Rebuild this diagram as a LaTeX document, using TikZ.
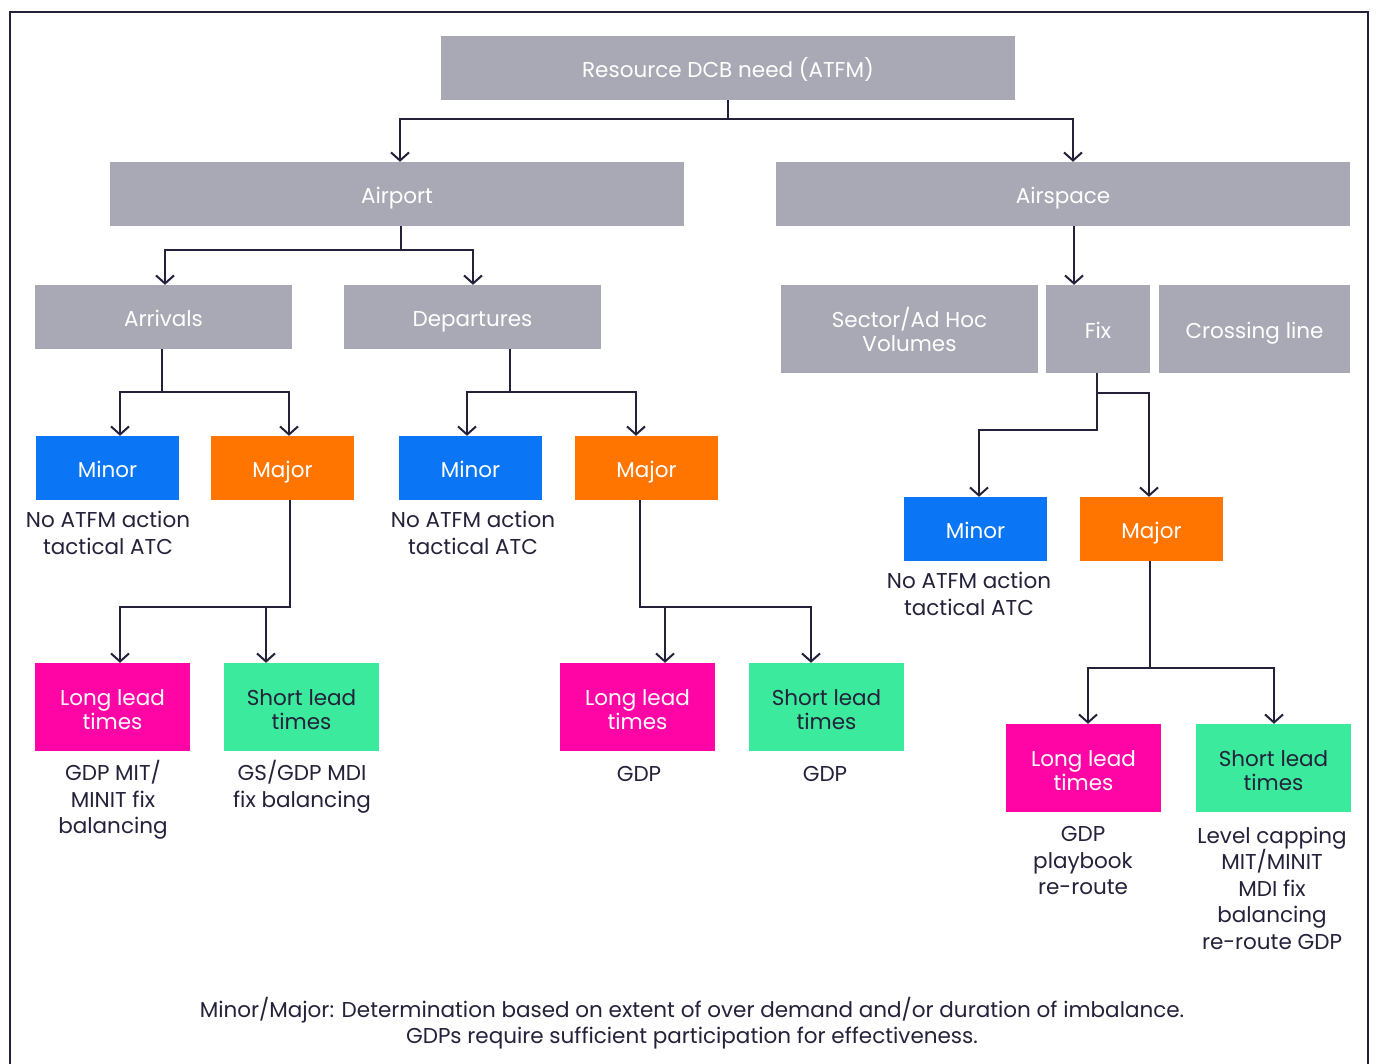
\documentclass[tikz,border=0pt]{standalone}
\usepackage{fontspec}
\setmainfont{Poppins}
\usetikzlibrary{arrows.meta}
\definecolor{boxgrey}{HTML}{A8A9B4}
\definecolor{boxblue}{HTML}{0A76F6}
\definecolor{boxorange}{HTML}{FF7500}
\definecolor{boxpink}{HTML}{FF05A5}
\definecolor{boxgreen}{HTML}{3BEA9C}
\definecolor{ink}{HTML}{23223A}
\newcommand{\twolines}[2]{\raisebox{-6pt}[\height][\depth]{\begin{tabular}{@{}c@{}}#1\\#2\end{tabular}}}
\tikzset{
  basebox/.style={rectangle, inner sep=0pt, align=center, text=white,
    font=\fontsize{21.5}{24}\selectfont},
  oneline/.style={text height=20pt, text depth=1pt},
  greybox/.style={basebox, fill=boxgrey},
  minorbox/.style={basebox, oneline, fill=boxblue, minimum width=143, minimum height=64},
  majorbox/.style={basebox, oneline, fill=boxorange, minimum width=143, minimum height=64},
  longbox/.style={basebox, fill=boxpink, minimum width=155, minimum height=88},
  shortbox/.style={basebox, fill=boxgreen, text=ink, minimum width=155, minimum height=88},
  note/.style={align=center, text=ink, inner sep=0pt, font=\fontsize{21.5}{26.5}\selectfont},
  arr/.style={draw=ink, line width=2pt, -{Straight Barb[length=8pt,width=18pt,line width=2pt]}},
  frame/.style={draw=ink, line width=2.5pt}
}
\begin{document}
\begin{tikzpicture}[x=1pt,y=-1pt]
\useasboundingbox (0,0) rectangle (1376,1063);
\fill[white] (0,0) rectangle (1376,1063);
\draw[frame] (10,1070) -- (10,12) -- (1368,12) -- (1368,1070);

% level 0
\node[greybox, oneline, minimum width=574, minimum height=64] (root) at (728,68) {Resource DCB need (ATFM)};
% level 1
\node[greybox, oneline, minimum width=574, minimum height=64] (airport) at (397,194) {Airport};
\node[greybox, oneline, minimum width=574, minimum height=64] (airspace) at (1063,194) {Airspace};
% level 2
\node[greybox, oneline, minimum width=257, minimum height=64] (arr) at (163.5,317) {Arrivals};
\node[greybox, oneline, minimum width=257, minimum height=64] (dep) at (472.5,317) {Departures};
\node[greybox, minimum width=257, minimum height=88] (sector) at (909.5,329) {Sector/Ad Hoc\\Volumes};
\node[greybox, oneline, minimum width=104, minimum height=88] (fix) at (1098,329) {Fix};
\node[greybox, oneline, minimum width=191, minimum height=88] (cross) at (1254.5,329) {Crossing line};
% level 3
\node[minorbox] (minA) at (107.5,468) {Minor};
\node[majorbox] (majA) at (282.5,468) {Major};
\node[minorbox] (minD) at (470.5,468) {Minor};
\node[majorbox] (majD) at (646.5,468) {Major};
\node[minorbox] (minS) at (975.5,529) {Minor};
\node[majorbox] (majS) at (1151.5,529) {Major};
% notes under minor
\node[note] (nA) at (108,533) {No ATFM action\\tactical ATC};
\node[note] (nD) at (473,533) {No ATFM action\\tactical ATC};
\node[note] (nS) at (969,594) {No ATFM action\\tactical ATC};
% level 4
\node[longbox] (longA) at (112.5,707) {\twolines{Long lead}{times}};
\node[shortbox] (shortA) at (301.5,707) {\twolines{Short lead}{times}};
\node[longbox] (longD) at (637.5,707) {\twolines{Long lead}{times}};
\node[shortbox] (shortD) at (826.5,707) {\twolines{Short lead}{times}};
\node[longbox] (longS) at (1083.5,768) {\twolines{Long lead}{times}};
\node[shortbox] (shortS) at (1273.5,768) {\twolines{Short lead}{times}};
% notes
\node[note] (tLA) at (113,800) {GDP MIT/\\MINIT fix\\balancing};
\node[note] (tSA) at (302,787) {GS/GDP MDI\\fix balancing};
\node[note] (tLD) at (639,774) {GDP};
\node[note] (tSD) at (825,774) {GDP};
\node[note] (tLS) at (1083,861) {GDP\\playbook\\re-route};
\node[note] (tSS) at (1272,888) {Level capping\\MIT/MINIT\\MDI fix\\balancing\\re-route GDP};
\node[note] (foot) at (692,1023) {Minor/Major: Determination based on extent of over demand and/or duration of imbalance.\\GDPs require sufficient participation for effectiveness.};

% connectors
\draw[arr] (root.south) -- ++(0,19) -| ([xshift=3]airport.north);
\draw[arr] (root.south) -- ++(0,19) -| ([xshift=10]airspace.north);
\draw[arr] ([xshift=4]airport.south) -- ++(0,24) -| ([xshift=1.5]arr.north);
\draw[arr] ([xshift=4]airport.south) -- ++(0,24) -| ([xshift=0.5]dep.north);
\draw[arr] ([xshift=11]airspace.south) -- ([xshift=-24]fix.north);
\draw[arr] ([xshift=-1.5]arr.south) -- ++(0,43) -| ([xshift=12.5]minA.north);
\draw[arr] ([xshift=-1.5]arr.south) -- ++(0,43) -| ([xshift=6.5]majA.north);
\draw[arr] ([xshift=37.5]dep.south) -- ++(0,43) -| ([xshift=-3.5]minD.north);
\draw[arr] ([xshift=37.5]dep.south) -- ++(0,43) -| ([xshift=-10.5]majD.north);
\draw[arr] ([xshift=-1]fix.south) -- ++(0,57) -| ([xshift=3.5]minS.north);
\draw[arr] ([xshift=-1]fix.south) -- ++(0,20) -| ([xshift=-2.5]majS.north);
\draw[arr] ([xshift=7.5]majA.south) -- ++(0,107) -| ([xshift=7.5]longA.north);
\draw[arr] ([xshift=7.5]majA.south) -- ++(0,107) -| ([xshift=-35.5]shortA.north);
\draw[arr] ([xshift=-6.5]majD.south) -- ++(0,107) -| ([xshift=27.5]longD.north);
\draw[arr] ([xshift=-6.5]majD.south) -- ++(0,107) -| ([xshift=-15.5]shortD.north);
\draw[arr] ([xshift=-1.5]majS.south) -- ++(0,107) -| ([xshift=4.5]longS.north);
\draw[arr] ([xshift=-1.5]majS.south) -- ++(0,107) -| ([xshift=0.5]shortS.north);
\end{tikzpicture}
\end{document}
